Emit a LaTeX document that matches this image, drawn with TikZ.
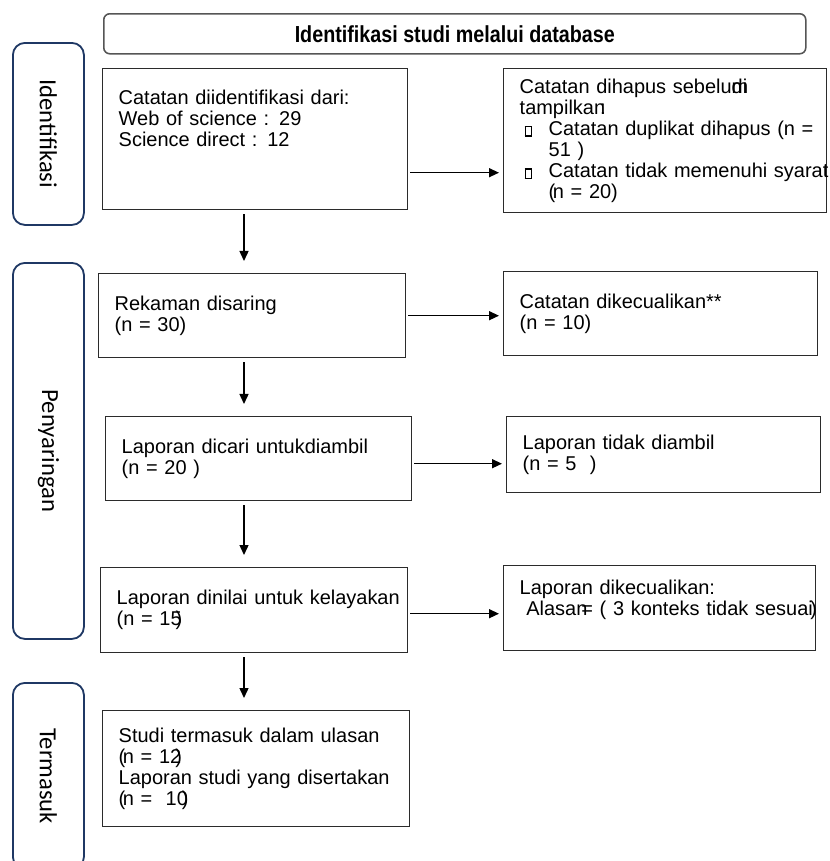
\documentclass[tikz,border=0pt]{standalone}
\usepackage{fontspec}
\setmainfont{Liberation Sans}
\newfontfamily\sidefont{Carlito}
\newfontfamily\titlefont{Liberation Sans}[FakeStretch=0.85]
\usetikzlibrary{arrows.meta}
\definecolor{sideBlue}{HTML}{1F3864}
\definecolor{boxGray}{HTML}{2B2B2B}
\definecolor{titleGray}{HTML}{555555}
\newdimen\pxu \pxu=0.025cm
\newcommand{\tickbox}{\makebox[29\pxu][l]{\hspace{5\pxu}{\fboxsep=0pt\fboxrule=0.9pt\fbox{\rule{0pt}{8\pxu}\hspace{5\pxu}}}}}

\begin{document}
\begin{tikzpicture}
[x=0.025cm,y=-0.025cm,%
  boxDecorate/.style={draw=boxGray,line width=1pt,rectangle,anchor=north west,align=left,
    inner xsep=16\pxu,inner ysep=0pt,font=\fontsize{14.2}{15}\selectfont},%
  sideDecorate/.style={draw=sideBlue,line width=1.3pt,rounded corners=12\pxu,anchor=north west,
    minimum width=71\pxu,inner sep=0pt,font=\sidefont\fontsize{17.5}{20}\selectfont},%
  titleDecorate/.style={draw=titleGray,line width=1.1pt,rounded corners=6\pxu,anchor=north west,
    minimum width=702\pxu,minimum height=40\pxu,inner sep=0pt,font=\titlefont\bfseries\fontsize{16.5}{18}\selectfont},%
  downArrow/.style={-{Triangle[length=0.25cm,width=0.225cm]},line width=1pt,shorten <=0.1cm,shorten >=0.3cm},%
  sideArrow/.style={-{Triangle[length=0.25cm,width=0.225cm]},line width=1pt,shorten <=0.05cm,shorten >=0.1cm}]
\useasboundingbox (0,0) rectangle (829,861);
\clip (0,0) rectangle (829,861);
%% title and phase labels
\node[titleDecorate] (title) at (103,13) {Identifikasi studi melalui database};
\node[sideDecorate,minimum height=182\pxu] (phaseA) at (12,42) {\rotatebox{-90}{Identifikasi}};
\node[sideDecorate,minimum height=376\pxu] (phaseB) at (12,262) {\rotatebox{-90}{Penyaringan}};
\node[sideDecorate,minimum height=186\pxu] (phaseC) at (12,682) {\rotatebox{-90}{Termasuk}};
%% main column
\node[boxDecorate,text width=273\pxu,minimum height=141\pxu] (found) at (102,68)
  {Catatan diidentifikasi dari:\\Web of science : 29\\Science direct : 12\\~\\~};
\node[boxDecorate,text width=275\pxu,minimum height=84\pxu] (screened) at (98,273)
  {Rekaman disaring\\(n = 30)};
\node[boxDecorate,text width=274\pxu,minimum height=84\pxu] (sought) at (105,416)
  {Laporan dicari untukdiambil\\(n = 20 )};
\node[boxDecorate,text width=275\pxu,minimum height=85\pxu] (assessed) at (100,567)
  {\mbox{Laporan dinilai untuk kelayakan}\\(n = 15\hspace{-0.3em})};
\node[boxDecorate,text width=275\pxu,minimum height=116\pxu] (included) at (102,710)
  {\mbox{Studi termasuk dalam ulasan}\\(\hspace{-0.12em}n = 12\hspace{-0.3em})\\\mbox{Laporan studi yang disertakan}\\(\hspace{-0.12em}n =~ 10\hspace{-0.3em})};
%% excluded column
\node[boxDecorate,text width=291\pxu,minimum height=144\pxu] (removed) at (503,68)
  {Catatan dihapus sebelu\rlap{m}di\\
   tampilkan\hspace{-0.25em}:\\
   \mbox{\tickbox Catatan duplikat dihapus (n =}\\
   \hspace*{29\pxu}51 )\\
   \mbox{\tickbox Catatan tidak memenuhi syarat}\\
   \hspace*{29\pxu}(\hspace{-0.12em}n = 20)};
\node[boxDecorate,text width=282\pxu,minimum height=84\pxu] (dropped) at (503,271)
  {Catatan dikecualikan**\\(n = 10)};
\node[boxDecorate,text width=282\pxu,minimum height=76\pxu] (notfound) at (506,416)
  {Laporan tidak diambil\\(n = 5~ )};
\node[boxDecorate,text width=280\pxu,minimum height=85\pxu] (rejected) at (503,565)
  {Laporan dikecualikan:\\\mbox{ Alasan\hspace{-0.3em}= ( 3 konteks tidak sesuai\hspace{-0.12em})}\\~};
%% arrows
\coordinate (spine) at (244,0);
\draw[downArrow] (found.south -| spine) -- (screened.north -| spine);
\draw[downArrow] (screened.south -| spine) -- (sought.north -| spine);
\draw[downArrow] (sought.south -| spine) -- (assessed.north -| spine);
\draw[downArrow] (assessed.south -| spine) -- (included.north -| spine);
\draw[sideArrow] ([yshift=-33.5\pxu]found.east) -- ([yshift=-33.5\pxu]found.east -| removed.west);
\draw[sideArrow] (screened.east) -- (screened.east -| dropped.west);
\draw[sideArrow] ([yshift=-5\pxu]sought.east) -- ([yshift=-5\pxu]sought.east -| notfound.west);
\draw[sideArrow] ([yshift=-3.5\pxu]assessed.east) -- ([yshift=-3.5\pxu]assessed.east -| rejected.west);
\end{tikzpicture}
\end{document}
